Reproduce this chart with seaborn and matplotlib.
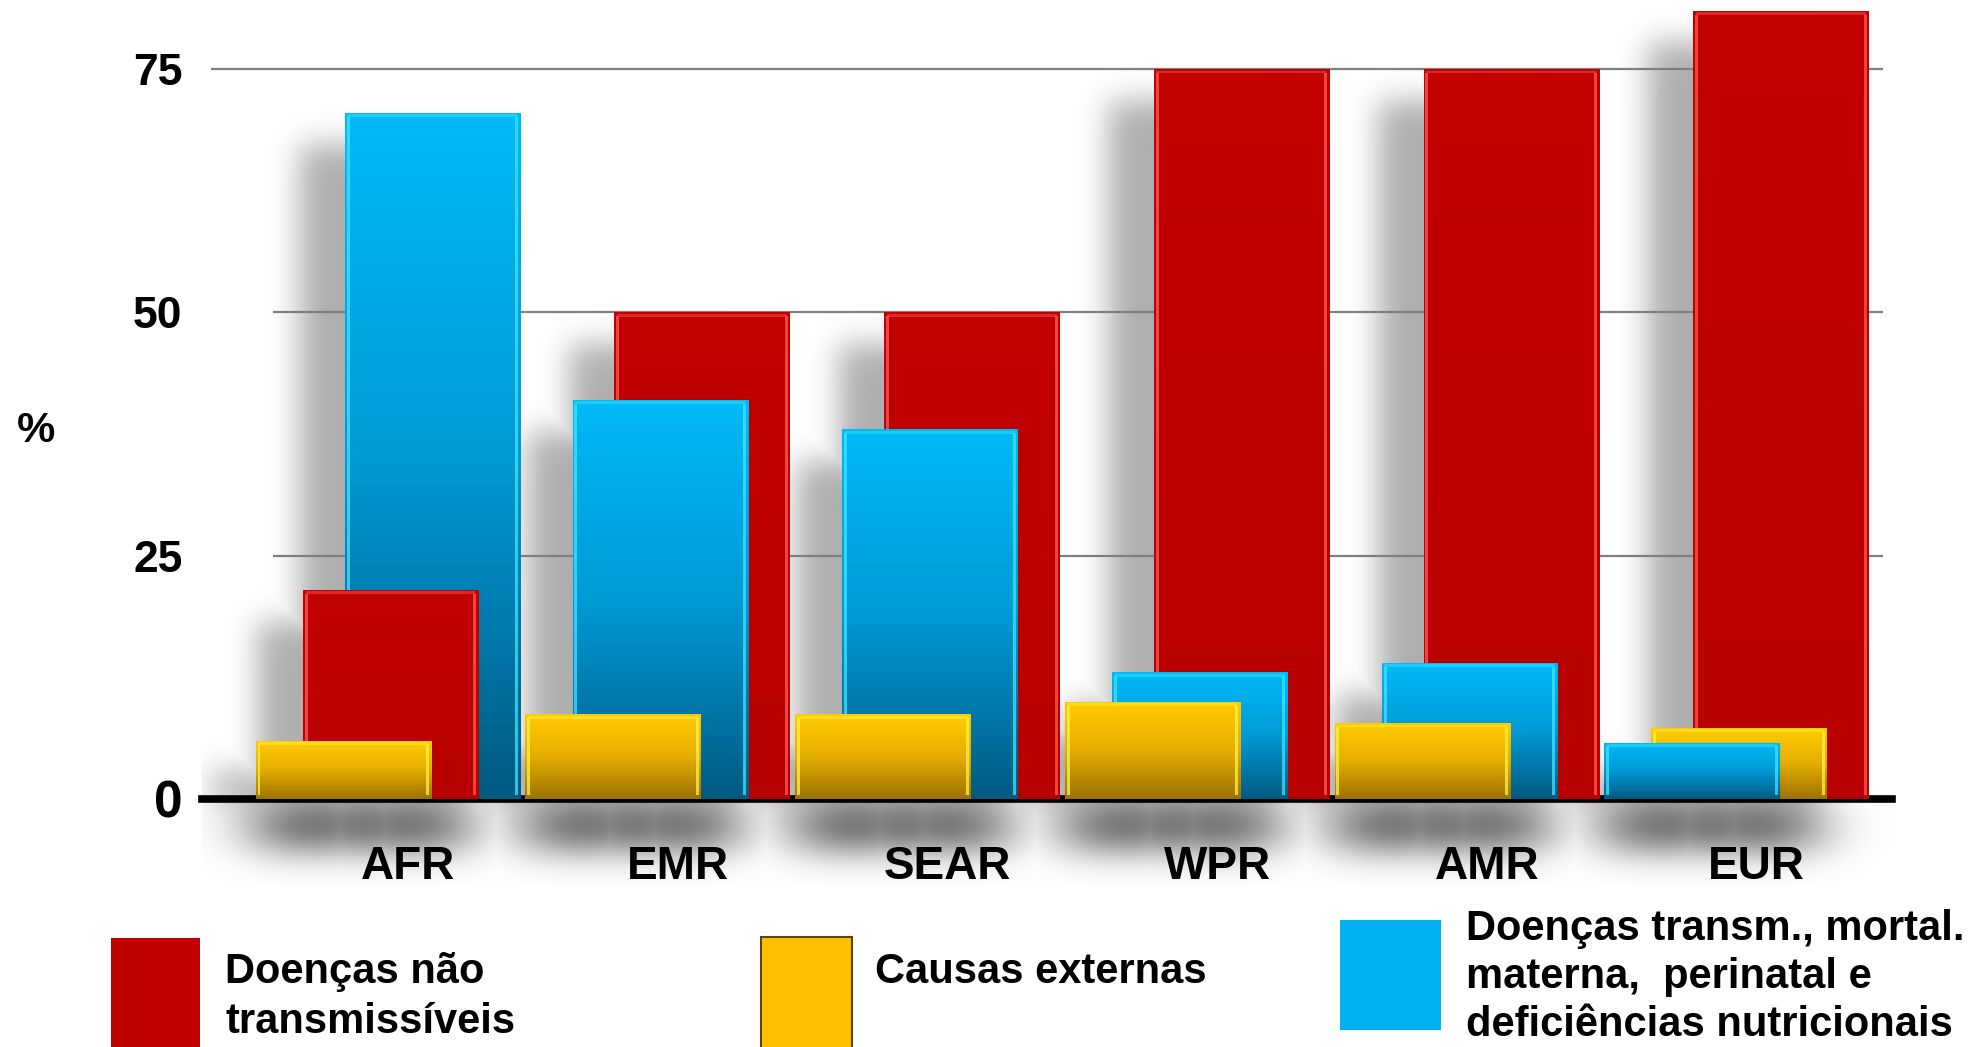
import math
import numpy as np
import matplotlib
matplotlib.use("Agg")
import matplotlib.pyplot as plt
from matplotlib.colors import LinearSegmentedColormap
from matplotlib.patches import Rectangle
import seaborn as sns

# ---- data -------------------------------------------------------------
regions = ["AFR", "EMR", "SEAR", "WPR", "AMR", "EUR"]
nao_transmissiveis = [21.5, 50, 50, 75, 75, 81]          # red
transmissiveis = [70.5, 41, 38, 13, 14, 5.8]             # blue
causas_externas = [6, 8.7, 8.7, 10, 7.8, 7.3]            # yellow

legend_labels = {
    "nao": "Doenças não\ntransmissíveis",
    "ext": "Causas externas",
    "trans": "Doenças transm., mortal.\nmaterna,  perinatal e\ndeficiências nutricionais",
}
y_ticks = [0, 25, 50, 75]

# ---- style ------------------------------------------------------------
RED, BLUE, YELLOW = "#C00000", "#00B0F0", "#FFC000"
CMAPS = {
    "nao": LinearSegmentedColormap.from_list("r", ["#B80000", "#C20000"]),
    "trans": LinearSegmentedColormap.from_list("b", ["#005A82", "#009AD6", "#00BAF7"]),
    "ext": LinearSegmentedColormap.from_list("y", ["#9C7200", "#E5AE00", "#FFCD00"]),
}
HILITE = {"nao": "#FF5A5A", "trans": "#3FE6FF", "ext": "#FFF34A"}
BAR_W = 0.65
# tallest bar of a group sits at the back/right, shortest at the front/left
RANK_OFFSET = [0.09, -0.065, -0.24]

sns.set_theme(style="white")
plt.rcParams["font.family"] = ["Liberation Sans", "DejaVu Sans"]
plt.rcParams["font.weight"] = "bold"
plt.rcParams["text.color"] = "black"
plt.rcParams["xtick.color"] = "black"
plt.rcParams["ytick.color"] = "black"

fig = plt.figure(figsize=(19.82, 10.47), dpi=100)
ax = fig.add_axes([0.1019, 0.1547, 0.8527, 0.8453])

XLIM = (-0.764, 5.502)
YLIM = (-8.84, 82.1)

series = [("nao", nao_transmissiveis, RED),
          ("trans", transmissiveis, BLUE),
          ("ext", causas_externas, YELLOW)]

bars = {}
for key, vals, col in series:
    n0 = len(ax.patches)
    sns.barplot(x=regions, y=vals, order=regions, color=col, saturation=1,
                width=BAR_W, errorbar=None, linewidth=0, ax=ax)
    bars[key] = list(ax.patches[n0:])

# overlapping layout inside each region: order by height
for i in range(len(regions)):
    vals_i = {k: v[i] for k, v, _ in series}
    order = sorted(vals_i, key=lambda k: -vals_i[k])
    for rank, k in enumerate(order):
        p = bars[k][i]
        p.set_x(i + RANK_OFFSET[rank] - p.get_width() / 2)
        p.set_zorder(3 + rank)

# vertical gradient fill and glossy edge strips on each bar
grad = np.linspace(0, 1, 256).reshape(-1, 1)
for key, vals, col in series:
    for p in bars[key]:
        x0, w, h, z = p.get_x(), p.get_width(), p.get_height(), p.get_zorder()
        im = ax.imshow(grad, extent=[x0, x0 + w, 0, h], origin="lower",
                       aspect="auto", cmap=CMAPS[key], zorder=z + 0.01,
                       interpolation="bilinear")
        im.set_clip_path(p)
        sw = 0.011
        for sx in (x0 + 0.007, x0 + w - 0.007 - sw):
            ax.add_patch(Rectangle((sx, 0.4), sw, max(h - 0.8, 0.1),
                                   facecolor=HILITE[key], alpha=0.75,
                                   lw=0, zorder=z + 0.02))
        ax.add_patch(Rectangle((x0 + 0.01, h - 0.45), w - 0.02, 0.3,
                               facecolor=HILITE[key], alpha=0.45,
                               lw=0, zorder=z + 0.02))

# soft drop shadows (left of each bar and beneath the base line)
erf = np.vectorize(math.erf)


def band(coords, lo, hi, s):
    k = s * math.sqrt(2)
    return 0.5 * (erf((coords - lo) / k) - erf((coords - hi) / k))


xs = np.linspace(XLIM[0], XLIM[1], 1400)
ys = np.linspace(YLIM[0], YLIM[1], 900)
side = np.zeros((ys.size, xs.size))
base = np.zeros((ys.size, xs.size))
for key, vals, col in series:
    for p in bars[key]:
        x0, w, h = p.get_x(), p.get_width(), p.get_height()
        s = np.outer(band(ys, 0.0, h - 3.3, 1.6), band(xs, x0 - 0.17, x0 + w - 0.17, 0.055))
        side = np.maximum(side, s)
        b = np.outer(band(ys, -4.6, -1.2, 2.0), band(xs, x0 + 0.0, x0 + w - 0.2, 0.12))
        base = np.maximum(base, b)
rgba = np.zeros((ys.size, xs.size, 4))
rgba[..., 3] = np.clip(0.32 * side + 0.9 * base, 0, 0.72)
ax.imshow(rgba, extent=[XLIM[0], XLIM[1], YLIM[0], YLIM[1]], origin="lower",
          aspect="auto", zorder=1, interpolation="bilinear")

# grid lines
ax.hlines([25, 50], -0.5, 5.47, color="#7F7F7F", lw=1.6, zorder=2)
ax.hlines([75], -0.73, 5.47, color="#7F7F7F", lw=1.6, zorder=2)

ax.set_xlim(*XLIM)
ax.set_ylim(*YLIM)

for s in ("top", "right", "left"):
    ax.spines[s].set_visible(False)
ax.spines["bottom"].set_position(("data", 0))
ax.spines["bottom"].set_linewidth(5.5)
ax.spines["bottom"].set_color("black")
ax.spines["bottom"].set_zorder(2.5)

ax.set_xticks(range(len(regions)))
ax.set_xticklabels(regions, fontsize=33, fontweight="bold", color="black")
ax.tick_params(axis="x", length=0, pad=33)
ax.set_yticks(y_ticks)
ax.set_yticklabels([str(t) for t in y_ticks], fontsize=32, fontweight="bold", color="black")
ax.tick_params(axis="y", length=0, pad=14)
ax.get_yticklabels()[0].set_fontsize(37)
ax.set_xlabel("")
ax.set_ylabel("")
ax.grid(False)

fig.text(36 / 1982, 1 - 431 / 1047, "%", fontsize=31, fontweight="bold",
         ha="center", va="center", color="black")

# ---- legend -----------------------------------------------------------
W, H = 1982, 1047


def swatch(x0, x1, y_top, y_bot, color, edge=None):
    fig.patches.append(Rectangle((x0 / W, 1 - y_bot / H), (x1 - x0) / W,
                                 (y_bot - y_top) / H, transform=fig.transFigure,
                                 facecolor=color, edgecolor=edge or color,
                                 lw=1.5 if edge else 0))


def legend_text(x, baselines, text):
    for yb, line in zip(baselines, text.split("\n")):
        fig.text(x / W, 1 - yb / H, line, fontsize=30, fontweight="bold",
                 ha="left", va="baseline", color="black")


swatch(111, 200, 938, 1050, RED)
legend_text(225, [983, 1033], legend_labels["nao"])
swatch(761, 852, 937, 1050, YELLOW, edge="#5A4400")
legend_text(875, [983], legend_labels["ext"])
swatch(1340, 1441, 920, 1030, BLUE)
legend_text(1466, [940, 988, 1036], legend_labels["trans"])

fig.savefig("out.png", dpi=100)
